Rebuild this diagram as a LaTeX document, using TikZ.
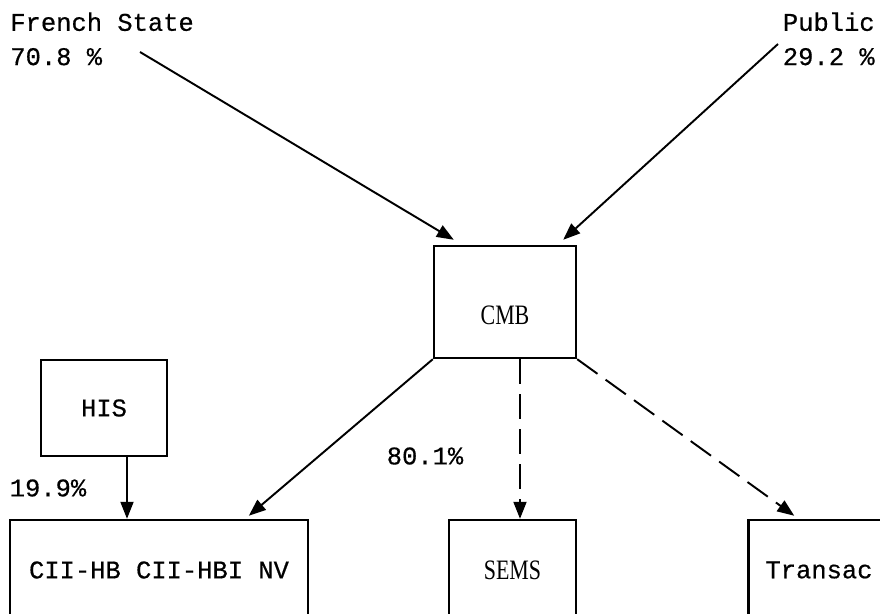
\documentclass[tikz,border=0pt]{standalone}
\usepackage{fontspec}
\setmonofont[FakeBold=0.5]{Liberation Mono}
\newfontfamily\romanaestrecha[FakeStretch=0.78]{Liberation Serif}
\usetikzlibrary{arrows.meta,calc}

\tikzset{
  caja/.style={draw,line width=1.4pt,inner sep=0pt,font=\ttfamily\fontsize{14.5}{19.5}\selectfont},
  romana/.style={font=\romanaestrecha\fontsize{16}{18}\selectfont},
  flecha/.style={line width=1.1pt,-{Triangle[length=0.34cm,width=0.26cm]}},
  rayada/.style={flecha,dash pattern=on 0.5cm off 0.2cm},
  etiqueta/.style={font=\ttfamily\fontsize{14.5}{19.5}\selectfont,inner sep=0pt,align=left}
}

\begin{document}
\begin{tikzpicture}[x=0.02cm,y=-0.02cm]
  % Marco de la figura
  \useasboundingbox (0,0) rectangle (880,614);
  \clip (0,0) rectangle (880,614);

  % Accionistas
  \node[etiqueta,anchor=north west] (estado) at (10,12) {French State\\70.8 \%};
  \node[etiqueta,anchor=north east] (publico) at (875,12) {Public\\29.2 \%};

  % Cajas
  \node[caja,romana,minimum width=2.84cm,minimum height=2.24cm,text height=0.92cm] (cmb) at (505,302) {CMB};
  \node[caja,minimum width=2.52cm,minimum height=1.92cm] (his) at (104,408) {HIS};
  \node[caja,minimum width=5.96cm,minimum height=2cm] (cii) at (159,570) {CII-HB CII-HBI NV};
  \node[caja,romana,minimum width=2.54cm,minimum height=2cm] (sems) at (512.5,570) {SEMS};
  \node[caja,minimum width=2.82cm,minimum height=2cm] (transac) at (819,570) {Transac};

  % Extremos libres de las flechas
  \coordinate (colaE) at (140,52);
  \coordinate (colaP) at (778,44);
  \coordinate (hisx) at ($(his.south)+(23,0)$);
  \coordinate (semsx) at ($(cmb.south)+(15,0)$);

  % Participaciones
  \draw[flecha] (colaE) -- ($(cmb.north west)+(21,-5)$);
  \draw[flecha] (colaP) -- ($(cmb.north east)+(-14,-5)$);
  \draw[flecha] (hisx) -- (hisx |- cii.north);
  \draw[flecha] (cmb.south west) -- ($(cii.north west)+(240,-3)$);
  \node[etiqueta] (pctcmb) at (425,456) {80.1\%};
  \node[etiqueta] (pcthis) at (48,488) {19.9\%};

  % Filiales (trazo discontinuo)
  \draw[rayada] (semsx) -- (semsx |- sems.north);
  \draw[rayada] (cmb.south east) -- ($(transac.north west)+(47,-3)$);
\end{tikzpicture}
\end{document}
